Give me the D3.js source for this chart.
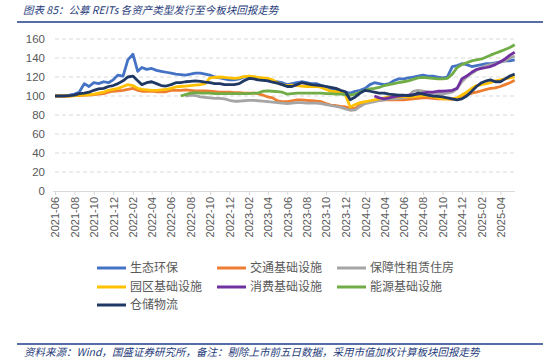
<!DOCTYPE html>
<html>
<head>
<meta charset="utf-8">
<script src="https://cdn.jsdelivr.net/npm/d3@7"></script>
<style>
  html, body { margin: 0; padding: 0; background: #fff; }
  svg { display: block; }
</style>
</head>
<body>
<svg id="chart" width="559" height="362"></svg>
<script>
// months covered, two observations per month (1st and 16th)
const months = [
  '2021-06','2021-07','2021-08','2021-09','2021-10','2021-11','2021-12',
  '2022-01','2022-02','2022-03','2022-04','2022-05','2022-06','2022-07','2022-08','2022-09','2022-10','2022-11','2022-12',
  '2023-01','2023-02','2023-03','2023-04','2023-05','2023-06','2023-07','2023-08','2023-09','2023-10','2023-11','2023-12',
  '2024-01','2024-02','2024-03','2024-04','2024-05','2024-06','2024-07','2024-08','2024-09','2024-10','2024-11','2024-12',
  '2025-01','2025-02','2025-03','2025-04','2025-05'
];
const tickLabels = [
  '2021-06','2021-08','2021-10','2021-12','2022-02','2022-04','2022-06','2022-08','2022-10','2022-12',
  '2023-02','2023-04','2023-06','2023-08','2023-10','2023-12','2024-02','2024-04','2024-06','2024-08',
  '2024-10','2024-12','2025-02','2025-04'
];
const yTicks = [0, 20, 40, 60, 80, 100, 120, 140, 160];

const seriesNames = ['生态环保', '交通基础设施', '保障性租赁住房', '园区基础设施', '消费基础设施', '能源基础设施', '仓储物流'];
const seriesColors = ['#4472C4', '#ED7D31', '#A5A5A5', '#FFC000', '#7030A0', '#70AD47', '#203864'];

const _ = null;
const ecoValues = [
  100,100,100.5,101,102,104,113,110,114,113,
  115,114,117,122,121,138,144,126,130,128,
  129,127,126,125,124,123,122.5,122,123,124,
  124,123,122,120,119,118,117,117,118,120,
  120,119,118,118,117,116,115,114,112,113,
  114,115,114,113,113,111,110,108,106,105,
  104,103,105,106,108,112,114,113,112,113,
  116,118,118,119,120,121,122,121,121,120,
  119,120,131,132,134,133,131,132,133,134,
  134,135,136,137,137,138
];
const trafficValues = [
  100,100,100,100,100.5,100.5,101,101,101.5,102,
  102.5,104,105,105.5,106,107,108,106,105,105,
  105,104.5,104.5,104.5,106,106,106,106.5,106,105.5,
  105.5,105.5,105,104.5,104,104,104,103.5,103.5,103,
  103,103,102.5,101,99,98,95,94,94,95,
  96,96,95.5,95,94.5,94,92,90.5,90,89,
  88.5,87,87,91,93,94,95,95.5,96,96,
  96,96,96,96.5,97,97.5,98,98,97.5,97,
  97,97,96.5,97,99,101,103,104,105.5,107,
  108,108.5,110,112,114,116.5
];
const housingValues = [
  _,_,_,_,_,_,_,_,_,_,
  _,_,_,_,_,_,_,_,_,_,
  _,_,_,_,_,_,_,100,101,100.5,
  99,98.5,98,97.5,97.5,97,95.5,94.5,94.5,95,
  95.5,95.5,95,94.5,94,93.5,93,92.5,92,92.5,
  93,93,92.5,92.5,92.5,92,91,90,89,88,
  86.5,85,85.5,89,92,93,94,95,96,97,
  97,97.5,98,100,105,106,105,104,103,102.5,
  102,103,104,108,115,120,124,127,130,132,
  133,134,135.5,137,140,142
];
const parkValues = [
  100,100,100,100,100.5,101,101,101.5,102,103,
  104,106,107,108,110,112,111,108,107,106.5,
  106,106,106.5,107,108,109.5,110,110.5,111,111.5,
  112,113,119,119.5,120,119.5,119,118.5,119,120.5,
  121,120.5,119.5,119,118.5,117,114,112,111,111.5,
  111,110.5,110,110,110,109,107,105,104.5,104,
  101,88.5,91,93,94,95,96,97,98,99,
  99,99,99.5,99,99,100,100.5,100.5,99,98,
  97,97,97,98,101,104,108,111,112,113,
  114,116,117,118,119,120
];
const consumerValues = [
  _,_,_,_,_,_,_,_,_,_,
  _,_,_,_,_,_,_,_,_,_,
  _,_,_,_,_,_,_,_,_,_,
  _,_,_,_,_,_,_,_,_,_,
  _,_,_,_,_,_,_,_,_,_,
  _,_,_,_,_,_,_,_,_,_,
  _,_,_,_,_,_,100,98,97,98,
  99,100,100.5,101,101.5,102,103,104,104,105,
  105,105.5,106,108,118,121,125,128,129,130,
  131,133,136,139,143,146
];
const energyValues = [
  _,_,_,_,_,_,_,_,_,_,
  _,_,_,_,_,_,_,_,_,_,
  _,_,_,_,_,_,100,101.5,103,103.5,
  103,103,103,102.5,102.5,102.5,102.5,102.5,102.5,102.5,
  102.5,103,103,105,105.5,105,104.5,104,102,102.5,
  103,103,103,103,103,103,102.5,102.5,102,102,
  101.5,101,102,104,106,107.5,108,109,111,112,
  113,114,115,116,117.5,119,119.5,119,118.5,118,
  118,118.5,123,130,133,135,137,138,139,141,
  143,145,147,149,151,154
];
const logisticsValues = [
  100,100,100,100.5,101,102.5,103,104,106,107.5,
  108,110,111,113,116,120,121,116,112,114,
  115,113,111,110.5,112,114,114,115,115.5,116,
  115.5,114.5,114,113,113,112,112,112,113,116,
  118.5,118,117,116.5,116,114.5,113.5,112,110,110,
  112,114,113,112,111.5,111,110,109,108,106,
  104.5,96,99,103,106,105,104,103,103,102,
  101.5,101,101,100.5,101,103,102,101,100,99.5,
  99,98,97,96,97,100,105,110,114,116,
  117,115,115,118,121,123
];
const seriesValues = [ecoValues, trafficValues, housingValues, parkValues, consumerValues, energyValues, logisticsValues];

const svg = d3.select('#chart');
const W = 559, H = 362;
const margin = { left: 55, right: 44, top: 39, bottom: 171 };
const plotR = W - margin.right;
const plotB = H - margin.bottom;

const parseDay = d3.timeParse('%Y-%m-%d');
const parseMonth = d3.timeParse('%Y-%m');
const dates = months.flatMap(m => [parseDay(m + '-01'), parseDay(m + '-16')]);

const x = d3.scaleTime()
  .domain([parseDay('2021-06-01'), parseDay('2025-05-17')])
  .range([margin.left, plotR]);
const y = d3.scaleLinear().domain([0, 160]).range([plotB, margin.top]);

const numFont = '"Liberation Sans", Arial, "Noto Sans CJK SC", sans-serif';
const cjkFont = '"Noto Sans CJK SC", "Liberation Sans", sans-serif';

// title and rules
svg.append('text')
  .attr('x', 23).attr('y', 14)
  .attr('font-family', cjkFont)
  .attr('font-size', 10.5)
  .attr('font-style', 'italic')
  .attr('fill', '#1F3C7A')
  .text('图表 85：公募 REITs 各资产类型发行至今板块回报走势');
svg.append('line')
  .attr('x1', 17).attr('x2', 543).attr('y1', 22).attr('y2', 22)
  .attr('stroke', '#1F3C88').attr('stroke-width', 1.5);
svg.append('line')
  .attr('x1', 17).attr('x2', 543).attr('y1', 344).attr('y2', 344)
  .attr('stroke', '#1F3C88').attr('stroke-width', 1.5);
svg.append('text')
  .attr('x', 24).attr('y', 356)
  .attr('font-family', cjkFont)
  .attr('font-size', 10.5)
  .attr('font-style', 'italic')
  .attr('fill', '#1F3C7A')
  .text('资料来源：Wind，国盛证券研究所，备注：剔除上市前五日数据，采用市值加权计算板块回报走势');

// gridlines
svg.append('g')
  .selectAll('line')
  .data(yTicks.filter(d => d > 0))
  .join('line')
  .attr('x1', margin.left).attr('x2', plotR)
  .attr('y1', d => y(d)).attr('y2', d => y(d))
  .attr('stroke', '#D9D9D9')
  .attr('stroke-width', 1)
  .attr('stroke-dasharray', '4,3');

// y labels
const yAxis = svg.append('g')
  .attr('transform', `translate(${margin.left - 10},0)`)
  .call(d3.axisLeft(y).tickValues(yTicks).tickSize(0).tickPadding(0));
yAxis.select('.domain').remove();
yAxis.selectAll('text')
  .attr('font-family', numFont)
  .attr('font-size', 11.5)
  .attr('fill', '#595959');

// x axis
const tickDates = tickLabels.map(parseMonth);
const xAxis = svg.append('g')
  .attr('transform', `translate(0,${plotB})`)
  .call(d3.axisBottom(x).tickValues(tickDates).tickSize(4).tickFormat(d3.timeFormat('%Y-%m')));
xAxis.select('.domain')
  .attr('d', `M${margin.left - 2},0.5H${plotR}`)
  .attr('stroke', '#D9D9D9');
xAxis.selectAll('.tick line').attr('stroke', '#D9D9D9');
xAxis.selectAll('text')
  .attr('font-family', numFont)
  .attr('font-size', 11)
  .attr('fill', '#595959')
  .attr('text-anchor', 'end')
  .attr('transform', 'rotate(-90)')
  .attr('x', -6)
  .attr('y', 0)
  .attr('dy', '0.35em');

// lines
const line = d3.line()
  .defined(d => d.v !== null)
  .x(d => x(d.date))
  .y(d => y(d.v));

const lines = svg.append('g');
seriesNames.forEach((name, i) => {
  const pts = dates.map((d, j) => ({ date: d, v: seriesValues[i][j] }));
  lines.append('path')
    .datum(pts)
    .attr('fill', 'none')
    .attr('stroke', seriesColors[i])
    .attr('stroke-width', 2.8)
    .attr('stroke-linejoin', 'round')
    .attr('d', line);
});

// legend
const legendCols = [97, 217, 337];
const legendRows = [268, 287, 305];
const legend = svg.append('g');
seriesNames.forEach((name, i) => {
  const lx = legendCols[i % 3];
  const ly = legendRows[Math.floor(i / 3)];
  legend.append('line')
    .attr('x1', lx).attr('x2', lx + 29)
    .attr('y1', ly).attr('y2', ly)
    .attr('stroke', seriesColors[i])
    .attr('stroke-width', 3);
  legend.append('text')
    .attr('x', lx + 33).attr('y', ly)
    .attr('dy', '0.35em')
    .attr('font-family', cjkFont)
    .attr('font-size', 12)
    .attr('fill', '#595959')
    .text(name);
});
</script>
</body>
</html>
